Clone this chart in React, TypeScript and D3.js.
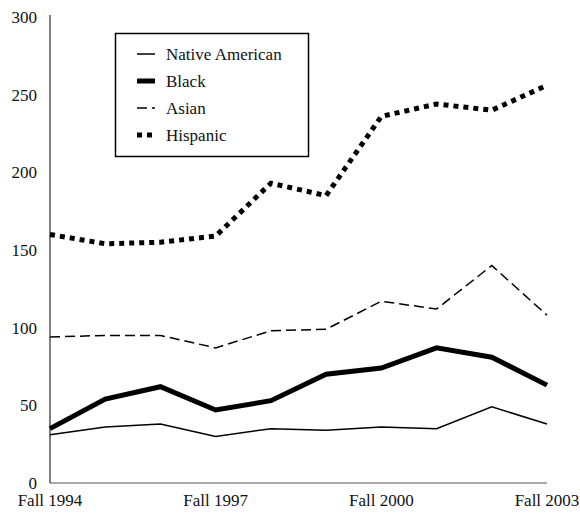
import React from "react";
import * as d3 from "d3";

const categories = ["Fall 1994", "Fall 1995", "Fall 1996", "Fall 1997", "Fall 1998", "Fall 1999", "Fall 2000", "Fall 2001", "Fall 2002", "Fall 2003"];
const xTickLabels = ["Fall 1994", "Fall 1997", "Fall 2000", "Fall 2003"];
const yTicks = [0, 50, 100, 150, 200, 250, 300];

const nativeAmerican = [31, 36, 38, 30, 35, 34, 36, 35, 49, 38];
const black = [35, 54, 62, 47, 53, 70, 74, 87, 81, 63];
const asian = [94, 95, 95, 87, 98, 99, 117, 112, 140, 108];
const hispanic = [160, 154, 155, 159, 193, 185, 236, 244, 240, 256];

const seriesNames = ["Native American", "Black", "Asian", "Hispanic"];
const seriesValues = [nativeAmerican, black, asian, hispanic];
const seriesStyles = [
  { width: 1.5, dash: "" },
  { width: 5, dash: "" },
  { width: 1.5, dash: "10 5" },
  { width: 5, dash: "5 5" },
];

const W = 580;
const H = 514;
const left = 50;
const right = 547;
const top = 17;
const bottom = 483;

export default function App() {
  const x = d3.scalePoint<string>().domain(categories).range([left, right]);
  const y = d3.scaleLinear().domain([0, 300]).range([bottom, top]);
  const line = d3
    .line<number>()
    .x((_, i) => x(categories[i]) as number)
    .y((d) => y(d));
  const ts = { fontFamily: '"Liberation Serif"' };

  return (
    <svg width={W} height={H} style={{ position: "absolute", left: 0, top: 0, background: "#fff" }}>
      <rect x={0} y={0} width={W} height={H} fill="#fff" />
      {/* axes */}
      <line x1={left} x2={left} y1={y(300) - 2} y2={bottom} stroke="#000" strokeWidth={1} />
      <line x1={left} x2={right} y1={bottom} y2={bottom} stroke="#555" strokeWidth={1} />
      {yTicks.map((t) => (
        <text key={t} x={37} y={y(t)} dy="0.35em" textAnchor="end" fontSize={17} fill="#111" style={ts}>
          {t}
        </text>
      ))}
      {xTickLabels.map((c) => (
        <text key={c} x={x(c) as number} y={506} textAnchor="middle" fontSize={17} fill="#111" style={ts}>
          {c}
        </text>
      ))}
      {/* series */}
      {seriesValues.map((vals, i) => (
        <path
          key={seriesNames[i]}
          d={line(vals) || ""}
          fill="none"
          stroke="#000"
          strokeWidth={seriesStyles[i].width}
          strokeDasharray={seriesStyles[i].dash || undefined}
          strokeLinejoin="miter"
        />
      ))}
      {/* legend */}
      <rect x={115.5} y={33.5} width={193} height={123} fill="#fff" stroke="#000" strokeWidth={1.5} />
      {seriesNames.map((n, i) => {
        const ry = 54 + i * 27;
        return (
          <g key={n}>
            <line
              x1={137}
              x2={155}
              y1={ry}
              y2={ry}
              stroke="#000"
              strokeWidth={seriesStyles[i].width}
              strokeDasharray={seriesStyles[i].dash || undefined}
            />
            <text x={166} y={ry + 6} fontSize={17} fill="#111" style={ts}>
              {n}
            </text>
          </g>
        );
      })}
    </svg>
  );
}
